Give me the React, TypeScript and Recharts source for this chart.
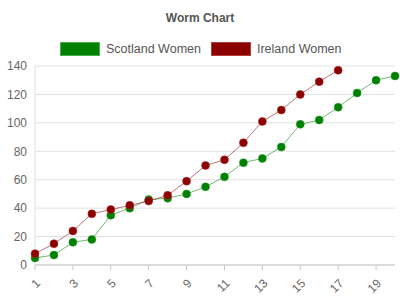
import { LineChart, Line, XAxis, YAxis, CartesianGrid } from 'recharts';

const games = Array.from({ length: 20 }, (_, i) => i + 1);
const scotland = [5, 7, 16, 18, 35, 40, 46, 47, 50, 55, 62, 72, 75, 83, 99, 102, 111, 121, 130, 133];
const ireland = [8, 15, 24, 36, 39, 42, 45, 49, 59, 70, 74, 86, 101, 109, 120, 129, 137];
const yTicks = [0, 20, 40, 60, 80, 100, 120, 140];

const data = games.map((g, i) => ({
    game: g,
    scotland: scotland[i],
    ireland: ireland[i],
}));

const FONT = '"Liberation Sans", Arial, sans-serif';

const XTick = (props: any) => {
    const { x, y, payload } = props;
    return (
        <text
            x={x + 6}
            y={y + 12}
            transform={`rotate(-45, ${x + 6}, ${y + 12})`}
            textAnchor="end"
            fontSize={12}
            fill="#666"
            fontFamily={FONT}
        >
            {payload.value}
        </text>
    );
};

export default function App() {
    return (
        <div style={{ position: 'absolute', left: 0, top: 0, width: 400, height: 300, background: '#fff', fontFamily: FONT }}>
            <div style={{ position: 'absolute', top: 11, width: 400, textAlign: 'center', fontSize: 12, fontWeight: 'bold', color: '#555' }}>
                Worm Chart
            </div>
            <div style={{ position: 'absolute', top: 42, left: 60, display: 'flex', alignItems: 'center', fontSize: 12.5, color: '#555' }}>
                <span style={{ width: 38, height: 12, background: '#008000', border: '1px solid #4caf50', marginRight: 6 }} />
                <span style={{ marginRight: 10 }}>Scotland Women</span>
                <span style={{ width: 38, height: 12, background: '#8b0000', border: '1px solid #b04040', marginRight: 6 }} />
                <span>Ireland Women</span>
            </div>
            <LineChart width={400} height={300} data={data} margin={{ top: 66, right: 5, left: 0, bottom: 0 }}>
                <CartesianGrid vertical={false} stroke="#e0e0e0" />
                <XAxis
                    dataKey="game"
                    interval={1}
                    height={35}
                    stroke="#c8c8c8"
                    tickLine={{ stroke: '#c8c8c8' }}
                    tickSize={5}
                    tick={<XTick />}
                />
                <YAxis
                    domain={[0, 140]}
                    ticks={yTicks}
                    width={35}
                    stroke="#e0e0e0"
                    tickLine={false}
                    tick={{ fontSize: 12, fill: '#666', fontFamily: FONT }}
                />
                <Line
                    dataKey="scotland"
                    stroke="#008000"
                    strokeOpacity={0.55}
                    strokeWidth={1}
                    dot={{ r: 4, fill: '#008000', stroke: '#2e9a2e', strokeWidth: 1 }}
                    isAnimationActive={false}
                />
                <Line
                    dataKey="ireland"
                    stroke="#8b0000"
                    strokeOpacity={0.55}
                    strokeWidth={1}
                    dot={{ r: 4, fill: '#8b0000', stroke: '#a83030', strokeWidth: 1 }}
                    isAnimationActive={false}
                />
            </LineChart>
        </div>
    );
}
